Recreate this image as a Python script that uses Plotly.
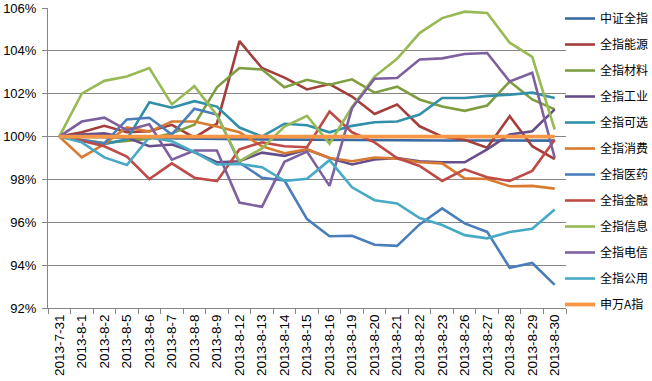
import plotly.graph_objects as go

dates = ["2013-7-31", "2013-8-1", "2013-8-2", "2013-8-5", "2013-8-6", "2013-8-7", "2013-8-8",
         "2013-8-9", "2013-8-12", "2013-8-13", "2013-8-14", "2013-8-15", "2013-8-16",
         "2013-8-19", "2013-8-20", "2013-8-21", "2013-8-22", "2013-8-23", "2013-8-26",
         "2013-8-27", "2013-8-28", "2013-8-29", "2013-8-30"]

zz_all = [100, 100.0, 99.97, 99.95, 99.93, 99.93, 99.92, 99.9, 99.88, 99.87, 99.86, 99.86,
          99.85, 99.84, 99.84, 99.83, 99.83, 99.82, 99.82, 99.82, 99.82, 99.81, 99.81]
energy = [100, 100.2, 100.5, 100.2, 100.25, 100.55, 99.95, 100.6, 104.45, 103.2, 102.75, 102.2,
          102.45, 101.87, 101.05, 101.5, 100.48, 100.0, 99.85, 99.48, 100.95, 99.55, 98.95]
materials = [100, 99.85, 99.7, 99.8, 99.9, 100.15, 100.55, 102.3, 103.2, 103.13, 102.3, 102.65,
             102.42, 102.67, 102.05, 102.33, 101.73, 101.4, 101.2, 101.45, 102.57, 101.73, 101.27]
industrial = [100, 100.1, 100.15, 99.95, 99.55, 99.63, 99.27, 98.8, 98.85, 99.25, 99.1, 99.4,
              99.0, 98.7, 98.93, 99.0, 98.85, 98.8, 98.8, 99.4, 100.1, 100.25, 101.27]
discretionary = [100, 99.8, 99.65, 99.87, 101.6, 101.35, 101.65, 101.4, 100.42, 100.0, 100.6, 100.53,
                 100.2, 100.5, 100.67, 100.7, 101.03, 101.8, 101.8, 101.9, 101.95, 102.05, 101.8]
staples = [100, 99.03, 99.65, 100.43, 100.23, 100.7, 100.7, 100.47, 100.2, 99.55, 99.22, 99.4,
           99.0, 98.85, 99.02, 98.97, 98.8, 98.75, 98.05, 98.02, 97.68, 97.7, 97.57]
health = [100, 99.85, 99.68, 100.8, 100.88, 100.1, 101.3, 101.03, 98.78, 98.08, 97.95, 96.15,
          95.35, 95.37, 94.95, 94.9, 95.9, 96.65, 95.95, 95.55, 93.88, 94.1, 93.08]
financial = [100, 99.8, 99.55, 99.07, 98.02, 98.75, 98.08, 97.92, 99.4, 99.73, 99.55, 99.5,
             101.17, 100.2, 99.73, 99.0, 98.63, 97.93, 98.47, 98.1, 97.93, 98.4, 99.85]
infotech = [100, 102.0, 102.6, 102.8, 103.2, 101.5, 102.35, 101.0, 98.85, 99.45, 100.47, 100.97,
            99.67, 101.38, 102.8, 103.63, 104.83, 105.53, 105.83, 105.77, 104.38, 103.72, 100.33]
telecom = [100, 100.7, 100.88, 100.3, 100.57, 98.92, 99.35, 99.35, 96.92, 96.72, 98.82, 99.3,
           97.7, 101.33, 102.7, 102.73, 103.6, 103.65, 103.85, 103.9, 102.57, 102.98, 99.0]
utilities = [100, 99.73, 99.03, 98.67, 99.97, 99.78, 99.27, 98.7, 98.72, 98.57, 97.93, 98.03,
             98.9, 97.63, 97.03, 96.88, 96.2, 95.87, 95.4, 95.25, 95.55, 95.7, 96.6]
sw_a = [100] * 23

names = ["中证全指", "全指能源", "全指材料", "全指工业", "全指可选", "全指消费",
         "全指医药", "全指金融", "全指信息", "全指电信", "全指公用", "申万A指"]
series = [zz_all, energy, materials, industrial, discretionary, staples,
          health, financial, infotech, telecom, utilities, sw_a]
colors = ["#3A6AA3", "#A33E3B", "#7F9E42", "#654E8A", "#3190A8", "#D87B30",
          "#4A7EBB", "#BE4B48", "#98B954", "#7D60A0", "#46AAC5", "#F79646"]
y_ticks = [92, 94, 96, 98, 100, 102, 104, 106]
y_tick_text = [f"{v}%" for v in y_ticks]

fig = go.Figure()
for i, (n, s, c) in enumerate(zip(names, series, colors)):
    fig.add_trace(go.Scatter(
        x=dates, y=s, name=n, mode="lines",
        line=dict(color=c, width=3.8 if i == 11 else 2.6),
        legendgroup=n,
    ))

grid = "#868686"
fig.update_layout(
    width=652, height=381,
    margin=dict(l=48, r=86, t=8, b=73, autoexpand=False),
    paper_bgcolor="white", plot_bgcolor="white",
    font=dict(family="Liberation Sans, Arial, sans-serif", color="black"),
    showlegend=True,
    legend=dict(
        x=0.9884, xanchor="left", yref="container", y=0.9895, yanchor="top",
        font=dict(family="Noto Sans CJK SC", size=12, color="black"),
        traceorder="grouped", tracegroupgap=7,
        bgcolor="rgba(0,0,0,0)", borderwidth=0,
        maxheight=1.0,
    ),
    xaxis=dict(
        type="category", range=[-0.5, 22.5], automargin=False,
        tickmode="array", tickvals=dates, ticktext=dates,
        tickangle=-90, tickfont=dict(size=13.5, family="Liberation Sans, Arial"),
        ticks="outside", tickson="boundaries", ticklen=5, tickcolor=grid,
        ticklabelstandoff=0,
        showline=True, linecolor=grid, linewidth=1,
        showgrid=False, zeroline=False,
    ),
    yaxis=dict(
        range=[92, 106], tickvals=y_ticks, ticktext=y_tick_text, automargin=False,
        tickfont=dict(size=13, family="Liberation Sans, Arial"),
        ticks="outside", ticklen=5, tickcolor=grid, ticklabelstandoff=3,
        showline=True, linecolor=grid, linewidth=1,
        showgrid=True, gridcolor=grid, gridwidth=1, zeroline=False,
    ),
)

fig.write_html(
    "out.html",
    config={"displayModeBar": False},
    post_script="document.body.style.margin='0';document.body.style.overflow='hidden';",
)
